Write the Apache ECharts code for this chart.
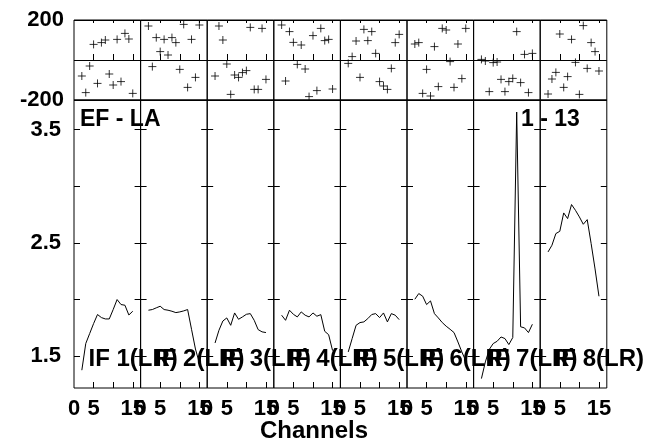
<!DOCTYPE html>
<html><head><meta charset="utf-8">
<script src="https://cdn.jsdelivr.net/npm/echarts@6/dist/echarts.min.js"></script>
<style>html,body{margin:0;padding:0;background:#fff}#c{width:647px;height:442px}</style>
</head><body><div id="c"></div>
<script>
// ---- data ----
const channels = [2, 3, 4, 5, 6, 7, 8, 9, 10, 11, 12, 13, 14, 15];
const panelNames = ['IF 1(LR)', 'IF 2(LR)', 'IF 3(LR)', 'IF 4(LR)', 'IF 5(LR)', 'IF 6(LR)', 'IF 7(LR)', 'IF 8(LR)'];

// lower plots (amplitude-like values)
const lineIF1 = [1.377, 1.612, 1.70, 1.788, 1.868, 1.841, 1.829, 1.829, 1.912, 2.0, 1.956, 1.95, 1.864, 1.897];
const lineIF2 = [1.906, 1.912, 1.927, 1.941, 1.912, 1.906, 1.897, 1.885, 1.891, 1.90, 1.912, 1.738, 1.564, 1.44];
const lineIF3 = [1.617, 1.729, 1.811, 1.838, 1.773, 1.882, 1.826, 1.847, 1.870, 1.876, 1.817, 1.735, 1.715, 1.709];
const lineIF4 = [1.862, 1.817, 1.906, 1.870, 1.847, 1.891, 1.862, 1.847, 1.882, 1.853, 1.867, 1.72, 1.69, 1.55];
const lineIF5 = [1.538, 1.656, 1.773, 1.797, 1.803, 1.832, 1.868, 1.876, 1.841, 1.882, 1.803, 1.876, 1.862, 1.823];
const lineIF6 = [2.003, 2.053, 2.03, 1.956, 1.988, 1.876, 1.838, 1.797, 1.765, 1.738, 1.709, 1.626, 1.538, 1.46];
const lineIF7 = [1.303, 1.45, 1.56, 1.612, 1.632, 1.670, 1.656, 1.603, 1.665, 3.654, 1.76, 1.75, 1.709, 1.782];
const lineIF8 = [2.420, 2.479, 2.582, 2.602, 2.764, 2.714, 2.838, 2.787, 2.729, 2.664, 2.705, 2.494, 2.27, 2.029];

// upper plots (phase-like values)
const phaseIF1 = [-80, -163, -30, 78, -117, 87, 100, -70, -125, 103, -108, 133, 105, -167];
const phaseIF2 = [170, -33, 112, 42, 103, 25, 112, 87, -47, 178, -137, 103, -87, 175];
const phaseIF3 = [-80, 170, 100, -20, -172, -75, -87, -63, -53, 163, -147, -147, 158, -97];
const phaseIF4 = [175, -105, 142, 88, -22, 75, -45, -183, 122, -153, 158, 97, 103, -145];
const phaseIF5 = [-17, 17, 95, -87, 153, 97, 142, 33, -108, -130, -147, -42, 87, 128];
const phaseIF6 = [80, 87, -167, -47, -180, 67, -133, 158, 150, -8, -137, 80, -93, 158];
const phaseIF7 = [3, -5, -158, -13, -10, -97, -158, -108, -92, 142, -113, 28, -163, 33];
const phaseIF8 = [-170, -95, -62, 130, -137, -83, 103, -12, -172, 172, -42, 87, 42, -55];

const xTickLabels = [0, 5, 15];
const xTicks = [5, 10, 15];
const yTicksLower = [1.5, 2.0, 2.5, 3.0, 3.5];
const yTickLabelsLower = [1.5, 2.5, 3.5];
const titleLeft = 'EF - LA';
const titleRight = '1 - 13';
const xAxisName = 'Channels';

const lines = [lineIF1, lineIF2, lineIF3, lineIF4, lineIF5, lineIF6, lineIF7, lineIF8];
const phases = [phaseIF1, phaseIF2, phaseIF3, phaseIF4, phaseIF5, phaseIF6, phaseIF7, phaseIF8];

// ---- layout ----
const FONT = "'Liberation Sans', Arial, sans-serif";
const L0 = 74, PW = 66.6;
const TOP1 = 20, H1 = 80, TOP2 = 100, H2 = 288;

const grid = [], xAxis = [], yAxis = [], series = [], graphic = [];
const lblStyle = {color: '#000', fontFamily: FONT, fontWeight: 'bold', fontSize: 22};

for (let p = 0; p < 8; p++) {
  const left = L0 + p * PW;
  grid.push({left: left, top: TOP1, width: PW, height: H1, show: true, borderColor: '#000', borderWidth: 1, containLabel: false});
  grid.push({left: left, top: TOP2, width: PW, height: H2, show: true, borderColor: '#000', borderWidth: 1, containLabel: false});

  // x axes
  xAxis.push({type: 'value', gridIndex: 2 * p, position: 'bottom', min: 0, max: 17,
    axisLine: {show: false}, splitLine: {show: false},
    axisTick: {show: true, inside: true, length: 6, customValues: xTicks, lineStyle: {color: '#000'}},
    axisLabel: {show: false}});
  xAxis.push({type: 'value', gridIndex: 2 * p, position: 'top', min: 0, max: 17,
    axisLine: {show: false}, splitLine: {show: false},
    axisTick: {show: true, inside: true, length: 3, customValues: xTicks, lineStyle: {color: '#000'}},
    axisLabel: {show: false}});
  xAxis.push({type: 'value', gridIndex: 2 * p + 1, position: 'bottom', min: 0, max: 17,
    axisLine: {show: false}, splitLine: {show: false},
    axisTick: {show: true, inside: true, length: 6, customValues: xTicks, lineStyle: {color: '#000'}},
    axisLabel: Object.assign({show: true, margin: 10, customValues: xTickLabels}, lblStyle)});

  // y axes
  yAxis.push({type: 'value', gridIndex: 2 * p, min: -200, max: 200, interval: 200,
    axisLine: {show: false}, axisTick: {show: false},
    splitLine: {show: true, lineStyle: {color: '#000', width: 1}},
    axisLabel: Object.assign({show: p === 0, margin: 10, formatter: v => (v === 0 ? '' : String(v))}, lblStyle)});
  yAxis.push({type: 'value', gridIndex: 2 * p + 1, position: 'left', min: 1.22, max: 3.76,
    axisLine: {show: false}, splitLine: {show: false},
    axisTick: {show: true, inside: true, length: 6, customValues: yTicksLower, lineStyle: {color: '#000'}},
    axisLabel: Object.assign({show: p === 0, margin: 13, customValues: yTickLabelsLower, formatter: v => v.toFixed(1)}, lblStyle)});
  yAxis.push({type: 'value', gridIndex: 2 * p + 1, position: 'right', min: 1.22, max: 3.76,
    axisLine: {show: false}, splitLine: {show: false},
    axisTick: {show: true, inside: true, length: 6, customValues: yTicksLower, lineStyle: {color: '#000'}},
    axisLabel: {show: false}});

  series.push({type: 'scatter', xAxisIndex: 3 * p, yAxisIndex: 3 * p,
    data: channels.map((c, i) => [c, phases[p][i]]),
    symbol: 'path://M0,5L10,5M5,0L5,10', symbolSize: 8,
    itemStyle: {color: 'transparent', borderColor: '#000', borderWidth: 1},
    silent: true});
  series.push({type: 'line', xAxisIndex: 3 * p + 2, yAxisIndex: 3 * p + 1,
    data: channels.map((c, i) => [c, lines[p][i]]),
    showSymbol: false, symbol: 'none',
    lineStyle: {color: '#000', width: 1}, silent: true});

  graphic.push({type: 'text', x: left + 14.5, y: 359, z: 100,
    style: {text: panelNames[p], fill: '#000', font: 'bold 24px ' + FONT, align: 'left', verticalAlign: 'middle'}});
}

graphic.push({type: 'text', x: 80, y: 120, z: 100,
  style: {text: titleLeft, fill: '#000', font: 'bold 23px ' + FONT, align: 'left', verticalAlign: 'middle'}});
graphic.push({type: 'text', x: 521, y: 120, z: 100,
  style: {text: titleRight, fill: '#000', font: 'bold 23px ' + FONT, align: 'left', verticalAlign: 'middle'}});
graphic.push({type: 'text', x: 314, y: 431, z: 100,
  style: {text: xAxisName, fill: '#000', font: 'bold 24px ' + FONT, align: 'center', verticalAlign: 'middle'}});

const chart = echarts.init(document.getElementById('c'), null, {renderer: 'canvas'});
chart.setOption({animation: false, backgroundColor: '#fff', grid, xAxis, yAxis, series, graphic});
</script></body></html>
